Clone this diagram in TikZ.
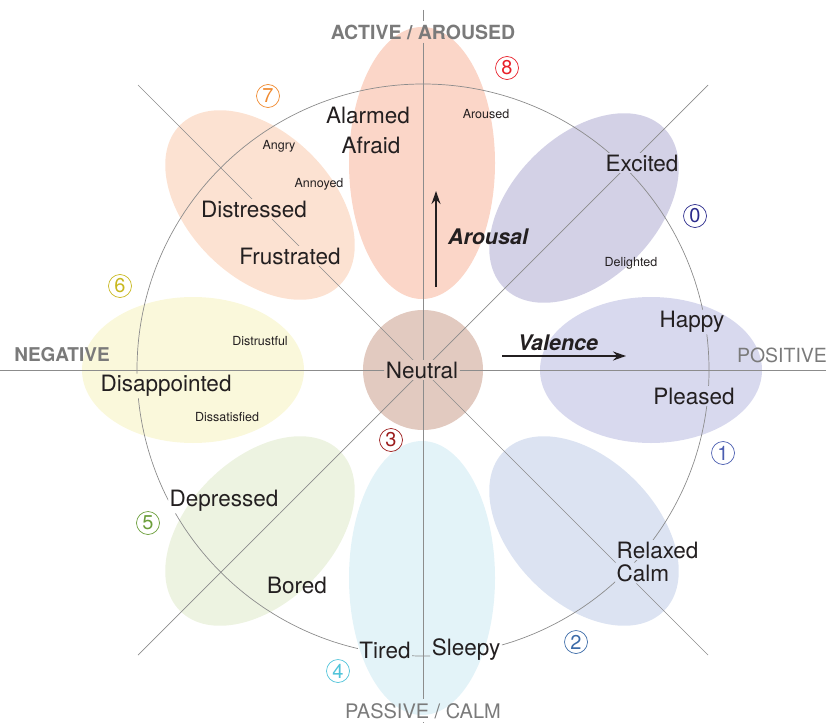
\documentclass[tikz,border=0pt]{standalone}
\usepackage{fontspec}
\setmainfont{TeX Gyre Heros}
\usetikzlibrary{arrows.meta}
\definecolor{cTop}{HTML}{FBD6C8}
\definecolor{cUL}{HTML}{FCE2D2}
\definecolor{cUR}{HTML}{D3D1E6}
\definecolor{cR}{HTML}{D8D9EE}
\definecolor{cLR}{HTML}{DCE3F2}
\definecolor{cB}{HTML}{E3F3F8}
\definecolor{cLL}{HTML}{EDF3E1}
\definecolor{cL}{HTML}{FAF8DB}
\definecolor{cN}{HTML}{E2CAC0}
\definecolor{lineg}{HTML}{8C8C8C}
\definecolor{ink}{HTML}{231F20}
\definecolor{axg}{HTML}{7A7A7A}
\definecolor{n0}{HTML}{2B2B8C}
\definecolor{n1}{HTML}{4A5DB0}
\definecolor{n2}{HTML}{3C6BA8}
\definecolor{n3}{HTML}{9B1C1C}
\definecolor{n4}{HTML}{4FC3D9}
\definecolor{n5}{HTML}{6B9E3A}
\definecolor{n6}{HTML}{C8B820}
\definecolor{n7}{HTML}{F08A30}
\definecolor{n8}{HTML}{E8202A}
\begin{document}
\begin{tikzpicture}[x=1pt,y=-1pt,
  axis/.style={draw=lineg, line width=0.7pt},
  big/.style={font=\fontsize{22.5}{24}\selectfont, text=ink, inner sep=1.5pt},
  small/.style={font=\fontsize{12.5}{14}\selectfont, text=ink, inner sep=1pt},
  axlab/.style={font=\fontsize{19.5}{22}\selectfont, text=axg, inner sep=3pt},
  numc/.style={circle, draw, line width=0.7pt, minimum size=23pt, inner sep=0pt, font=\fontsize{20}{20}\selectfont},
  dirarrow/.style={line width=1.8pt, draw=ink, -{Stealth[length=13pt,width=9pt]}},
  dirlab/.style={font=\fontsize{21.5}{23}\selectfont\bfseries\itshape, text=ink, inner sep=1pt},
]
\useasboundingbox (0,0) rectangle (826,722);
% ellipses
\fill[cTop] (422,163) ellipse [x radius=73pt, y radius=136pt];
\fill[cB] (422,578) ellipse [x radius=73pt, y radius=137pt];
\fill[cR] (651,370) ellipse [x radius=111pt, y radius=73pt];
\fill[cL] (193,370) ellipse [x radius=111pt, y radius=73pt];
\fill[cUR, shift={(584,208)}, rotate=45] (0,0) ellipse [x radius=113pt, y radius=72pt];
\fill[cUL, shift={(260,205)}, rotate=-45] (0,0) ellipse [x radius=113pt, y radius=72pt];
\fill[cLL, shift={(260,531)}, rotate=45] (0,0) ellipse [x radius=113pt, y radius=72pt];
\fill[cLR, shift={(584,531)}, rotate=-45] (0,0) ellipse [x radius=113pt, y radius=72pt];
\fill[cN] (423,370) circle [radius=60pt];
% labels
\node[big] (alarmed) at (368,115) {Alarmed};
\node[big] (afraid) at (371,145) {Afraid};
\node[small] (aroused) at (486,114) {Aroused};
\node[small] (angry) at (279,146) {Angry};
\node[small] (annoyed) at (319,184) {Annoyed};
\node[big] (distressed) at (254,209) {Distressed};
\node[big] (frustrated) at (290,256) {Frustrated};
\node[big] (excited) at (642,163) {Excited};
\node[small] (delighted) at (631,263) {Delighted};
\node[big] (happy) at (692,322) {Happy};
\node[big] (pleased) at (694,396) {Pleased};
\node[small] (distrustful) at (260,341) {Distrustful};
\node[big] (disapp) at (166,386) {Disappointed};
\node[small] (dissat) at (227,417) {Dissatisfied};
\node[big] (neutral) at (422,370) {Neutral};
\node[big] (depressed) at (224,501) {Depressed};
\node[big] (bored) at (297,585) {Bored};
\node[big, anchor=west] (relaxed) at (615,550) {Relaxed};
\node[big, anchor=west] (calm) at (615,573) {Calm};
\node[big] (tired) at (385,650) {Tired};
\node[big] (sleepy) at (466,650) {Sleepy};
\node[axlab, font=\fontsize{19.5}{22}\selectfont\bfseries] (active) at (423,32) {ACTIVE / AROUSED};
\node[axlab, inner sep=4pt, font=\fontsize{20}{22}\selectfont] (passive) at (423,711) {PASSIVE / CALM};
\node[axlab, font=\fontsize{19}{22}\selectfont\bfseries] (neg) at (62,355) {NEGATIVE};
\node[axlab] (pos) at (782,355) {POSITIVE};
% axes, broken behind the labels
\coordinate (c) at (423,370);
\coordinate (T) at (423,10);
\coordinate (B) at (423,722);
\coordinate (L) at (0,370);
\coordinate (R) at (826,370);
\coordinate (d1) at (138,85);
\coordinate (d2) at (708,655);
\coordinate (d3) at (708,85);
\coordinate (d4) at (138,655);
\begin{scope}[even odd rule]
\clip (-10,-10) rectangle (836,732)
  (alarmed.south west) rectangle (alarmed.north east)
  (afraid.south west) rectangle (afraid.north east)
  (distressed.south west) rectangle (distressed.north east)
  (frustrated.south west) rectangle (frustrated.north east)
  (excited.south west) rectangle (excited.north east)
  (delighted.south west) rectangle (delighted.north east)
  (happy.south west) rectangle (happy.north east)
  (pleased.south west) rectangle (pleased.north east)
  (disapp.south west) rectangle (disapp.north east)
  (neutral.south west) rectangle (neutral.north east)
  (depressed.south west) rectangle (depressed.north east)
  (bored.south west) rectangle (bored.north east)
  (relaxed.south west) rectangle (relaxed.north east)
  (calm.south west) rectangle (calm.north east)
  (tired.south west) rectangle (tired.north east)
  (sleepy.south west) rectangle (sleepy.north east);
\draw[axis] (T) -- (active.north);
\draw[axis] (active.south) -- (passive.north);
\draw[axis] (passive.south) -- (B);
\draw[axis] (L) -- (R);
\draw[axis] (d1) -- (d2);
\draw[axis] (d3) -- (d4);
\draw[axis] (c) circle [radius=286pt];
\end{scope}
% direction arrows
\coordinate (vs) at (502,356);
\coordinate (ve) at (626,356);
\draw[dirarrow] (vs) -- (ve);
\node[dirlab] (valence) at (558,343) {Valence};
\coordinate (as) at (436,287);
\coordinate (ae) at (436,191);
\draw[dirarrow] (as) -- (ae);
\node[dirlab] (arousal) at (488,237) {Arousal};
% numbers
\node[numc, draw=n0, text=n0] (k0) at (695,216) {0};
\node[numc, draw=n1, text=n1] (k1) at (723,453) {1};
\node[numc, draw=n2, text=n2] (k2) at (576,642) {2};
\node[numc, draw=n3, text=n3] (k3) at (391,440) {3};
\node[numc, draw=n4, text=n4] (k4) at (338,671) {4};
\node[numc, draw=n5, text=n5] (k5) at (148,523) {5};
\node[numc, draw=n6, text=n6] (k6) at (120,286) {6};
\node[numc, draw=n7, text=n7] (k7) at (268,96) {7};
\node[numc, draw=n8, text=n8] (k8) at (507,68) {8};
\end{tikzpicture}
\end{document}
